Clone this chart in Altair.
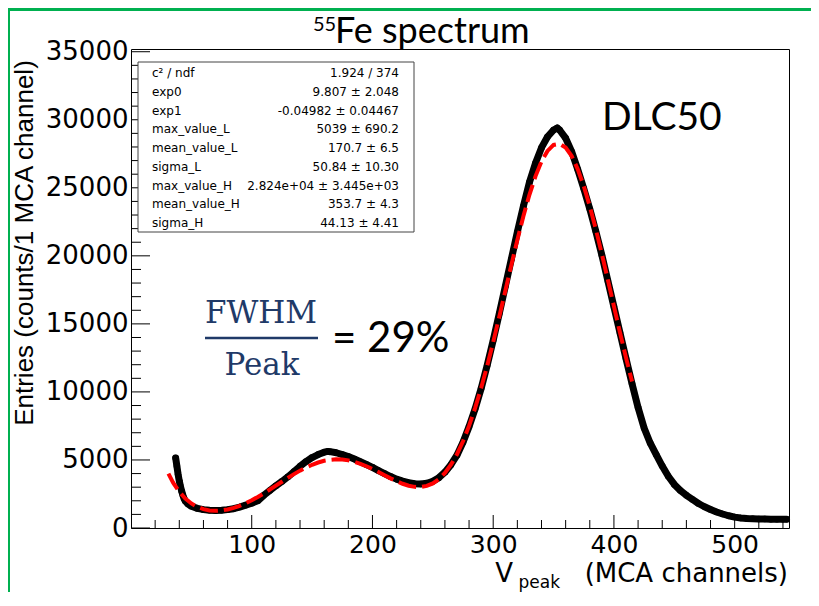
import altair as alt
import pandas as pd

# ---- measured spectrum (channel, counts) ----
channel = [37, 38, 39, 40, 41, 42, 43, 44, 45, 47, 50, 55, 60, 65, 70, 75, 80, 85, 90, 95,
           100, 105, 110, 115, 120, 125, 130, 135, 140, 145, 150, 155, 160, 163, 165, 170,
           175, 180, 185, 190, 195, 200, 205, 210, 215, 220, 225, 230, 235, 240, 245, 250,
           255, 260, 265, 270, 275, 280, 285, 290, 295, 300, 305, 310, 315, 320, 325, 330,
           335, 340, 345, 350, 353, 355, 360, 365, 370, 375, 380, 385, 390, 395, 400, 405,
           410, 415, 420, 425, 430, 435, 440, 445, 450, 455, 460, 465, 470, 475, 480, 485,
           490, 495, 500, 505, 510, 515, 520, 525, 530, 535, 540, 543]
counts = [5150, 4550, 3950, 3450, 3050, 2700, 2400, 2150, 1980, 1780, 1600, 1440, 1350, 1300,
          1290, 1310, 1350, 1420, 1540, 1680, 1820, 2000, 2400, 2750, 3100, 3420, 3760, 4150,
          4530, 4880, 5180, 5400, 5570, 5630, 5610, 5530, 5400, 5250, 5070, 4870, 4670, 4460,
          4220, 4000, 3780, 3590, 3440, 3330, 3260, 3240, 3290, 3430, 3700, 4100, 4650, 5350,
          6300, 7450, 8750, 10250, 11950, 13800, 15750, 17750, 19750, 21750, 23650, 25400,
          26800, 27950, 28750, 29250, 29400, 29250, 28650, 27650, 26350, 24950, 23450, 21800,
          20050, 18150, 16250, 14350, 12450, 10600, 8850, 7350, 6250, 5400, 4550, 3800, 3200,
          2750, 2400, 2100, 1800, 1560, 1360, 1180, 1030, 900, 800, 740, 700, 680, 665, 655,
          650, 645, 645, 645]

# ---- fitted curve (red dashed) ----
fit_channel = [31, 35, 40, 45, 50, 55, 60, 65, 70, 75, 80, 85, 90, 95, 100, 105, 110, 115,
               120, 125, 130, 135, 140, 145, 150, 155, 160, 165, 170, 175, 180, 185, 190, 195,
               200, 205, 210, 215, 220, 225, 230, 235, 240, 245, 250, 255, 260, 265, 270, 275,
               280, 285, 290, 295, 300, 305, 310, 315, 320, 325, 330, 335, 340, 345, 350, 355,
               360, 365, 370, 375, 380, 385, 390, 395, 400, 405, 410, 415]
fit_counts = [3994, 3317, 2658, 2165, 1804, 1549, 1384, 1292, 1264, 1290, 1363, 1480, 1634,
              1823, 2040, 2283, 2547, 2824, 3111, 3400, 3686, 3960, 4216, 4447, 4648, 4812,
              4937, 5013, 5048, 5029, 4969, 4862, 4718, 4539, 4334, 4110, 3879, 3649, 3436,
              3251, 3108, 3023, 3012, 3091, 3278, 3589, 4040, 4649, 5423, 6372, 7501, 8810,
              10285, 11911, 13667, 15514, 17415, 19316, 21166, 22908, 24486, 25841, 26931,
              27710, 28151, 28235, 27954, 27329, 26379, 25135, 23645, 21960, 20135, 18226,
              16286, 14368, 12516, 10762]

# ---- axes ticks ----
x_major = [100, 200, 300, 400, 500]
x_minor = [20, 40, 60, 80, 120, 140, 160, 180, 220, 240, 260, 280, 320, 340, 360, 380,
           420, 440, 460, 480, 520, 540]
y_major = [0, 5000, 10000, 15000, 20000, 25000, 30000, 35000]
y_minor = [1000, 2000, 3000, 4000, 6000, 7000, 8000, 9000, 11000, 12000, 13000, 14000,
           16000, 17000, 18000, 19000, 21000, 22000, 23000, 24000, 26000, 27000, 28000,
           29000, 31000, 32000, 33000, 34000]

# ---- stats box ----
stat_labels = ["c\u00b2 / ndf", "exp0", "exp1", "max_value_L", "mean_value_L", "sigma_L",
               "max_value_H", "mean_value_H", "sigma_H"]
stat_values = ["1.924 / 374", "9.807 \u00b1 2.048", "-0.04982 \u00b1 0.04467",
               "5039 \u00b1 690.2", "170.7 \u00b1 6.5", "50.84 \u00b1 10.30",
               "2.824e+04 \u00b1 3.445e+03", "353.7 \u00b1 4.3", "44.13 \u00b1 4.41"]

W, H = 658, 479
xs = alt.Scale(domain=[0, 545], nice=False, zero=False)
ys = alt.Scale(domain=[0, 35200], nice=False, zero=False)

x_axis = alt.Axis(values=x_major, title=None, grid=False, domain=False, ticks=False,
                  tickSize=0, labelFont="DejaVu Sans", labelFontSize=25, labelColor="black",
                  labelPadding=4, labelFlush=False, labelOverlap=False, format="d")
y_axis = alt.Axis(values=y_major, title=None, grid=False, domain=False, ticks=False,
                  tickSize=0, labelFont="DejaVu Sans", labelFontSize=26, labelColor="black",
                  labelPadding=3, labelFlush=False, labelOverlap=False, format="d")

one = pd.DataFrame({"k": [0]})
data_df = pd.DataFrame({"ch": channel, "n": counts})
fit_df = pd.DataFrame({"ch": fit_channel, "n": fit_counts})

X = alt.X("ch:Q", scale=xs, axis=x_axis)
Y = alt.Y("n:Q", scale=ys, axis=y_axis)

data_line = alt.Chart(data_df).mark_line(color="black", strokeWidth=7, strokeCap="round",
                                         strokeJoin="round").encode(x=X, y=Y)
data_pts = alt.Chart(data_df).mark_circle(color="black", size=42, opacity=1).encode(x=X, y=Y)
fit_line = alt.Chart(fit_df).mark_line(color="#ff0000", strokeWidth=4,
                                       strokeDash=[18, 6]).encode(x=X, y=Y)

def xticks(vals, length):
    return alt.Chart(pd.DataFrame({"ch": vals})).mark_rule(color="black", strokeWidth=1).encode(
        x=X, y=alt.value(H), y2=alt.value(H - length))

def yticks(vals, length):
    return alt.Chart(pd.DataFrame({"n": vals})).mark_rule(color="black", strokeWidth=1).encode(
        y=Y, x=alt.value(0), x2=alt.value(length))

box = alt.Chart(one).mark_rect(fill="white", stroke="#444444", strokeWidth=1).encode(
    x=alt.value(7), x2=alt.value(283), y=alt.value(13), y2=alt.value(183))

def txt(s, x, y, size, font, color="black", align="left", baseline="alphabetic", angle=0,
        line_height=None):
    kw = dict(text=s, font=font, fontSize=size, color=color, align=align, baseline=baseline)
    if angle:
        kw["angle"] = angle
    if line_height:
        kw["lineHeight"] = line_height
    return alt.Chart(one).mark_text(**kw).encode(x=alt.value(x), y=alt.value(y))

stats_l = txt(stat_labels, 21, 28, 12, "DejaVu Sans", line_height=18.75)
stats_r = txt(stat_values, 268, 28, 12, "DejaVu Sans", align="right", line_height=18.75)

title_sup = txt("55", 182, -18, 20, "Lato")
title_main = txt("Fe spectrum", 204, -6, 36, "Lato")
dlc = txt("DLC50", 471, 81, 39, "Lato")
fwhm = txt("FWHM", 130, 274, 31, "DejaVu Serif", color="#1f3a68", align="center")
peak = txt("Peak", 131, 326, 31, "DejaVu Serif", color="#1f3a68", align="center")
frac = alt.Chart(one).mark_rule(color="#1f3a68", strokeWidth=2.5).encode(
    x=alt.value(74), x2=alt.value(187), y=alt.value(289))
eq = txt("= 29%", 201, 303, 42, "Lato")

ytitle = txt("Entries (counts/1 MCA channel)", -106, 194, 26, "Liberation Sans",
             align="center", baseline="middle", angle=270)
xt_v = txt("V", 382, 533, 26, "DejaVu Sans", align="right")
xt_sub = txt("peak", 429, 539, 17, "DejaVu Sans", align="right")
xt_rest = txt("(MCA channels)", 657, 533, 26, "DejaVu Sans", align="right")

green_left = alt.Chart(one).mark_rect(color="#00b050").encode(
    x=alt.value(-123), x2=alt.value(-121), y=alt.value(-41), y2=alt.value(543))
green_top = alt.Chart(one).mark_rect(color="#00b050").encode(
    x=alt.value(-123), x2=alt.value(680), y=alt.value(-41), y2=alt.value(-38))

chart = alt.layer(
    data_line, data_pts, fit_line,
    xticks(x_major, 13), xticks(x_minor, 8), yticks(y_major, 19), yticks(y_minor, 10),
    box, stats_l, stats_r,
    title_sup, title_main, dlc, fwhm, peak, frac, eq,
    ytitle, xt_v, xt_sub, xt_rest, green_left, green_top,
).properties(
    width=W, height=H,
    padding={"left": 123, "top": 41, "right": 22, "bottom": 64},
    autosize=alt.AutoSizeParams(type="none"),
    background="white",
).configure_view(stroke="black", strokeWidth=1)

chart.save("out.html", embed_options={"renderer": "svg", "actions": False})
